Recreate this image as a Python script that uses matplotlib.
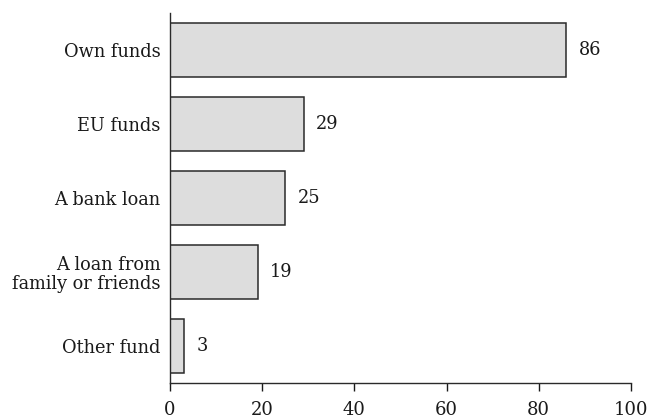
from matplotlib import pyplot as plt

CATEGORIES = ['Own funds', 'EU funds', 'A bank loan',
              'A loan from\nfamily or friends', 'Other fund']
VALUES = [86, 29, 25, 19, 3]
X_TICKS = [0, 20, 40, 60, 80, 100]

plt.rcParams['font.family'] = ['DejaVu Serif']

fig = plt.figure(figsize=(6.49, 4.2), dpi=100)
ax = fig.add_axes([0.262, 0.088, 0.710, 0.881])

pos = list(range(len(CATEGORIES)))
ax.barh(pos, VALUES, height=0.72, color='#dddddd',
        edgecolor='#2a2a2a', linewidth=1.1)

for p, v in zip(pos, VALUES):
    ax.annotate(str(v), (v, p), xytext=(9, 0), textcoords='offset points',
                va='center', ha='left', fontsize=12.8, color='#1a1a1a')

ax.set_xlim(0, 100)
ax.set_ylim(4.5, -0.5)
ax.set_xticks(X_TICKS)
ax.set_yticks(pos)
ax.set_yticklabels(CATEGORIES, fontsize=12.8, color='#1a1a1a',
                   linespacing=1.05)
ax.tick_params(axis='x', labelsize=13, length=6, width=1.0,
               colors='#1a1a1a', pad=7)
ax.tick_params(axis='y', length=0, pad=7)

for s in ['top', 'right']:
    ax.spines[s].set_visible(False)
for s in ['left', 'bottom']:
    ax.spines[s].set_color('#2a2a2a')
    ax.spines[s].set_linewidth(1.0)

fig.savefig('out.png', dpi=100)
plt.close()
